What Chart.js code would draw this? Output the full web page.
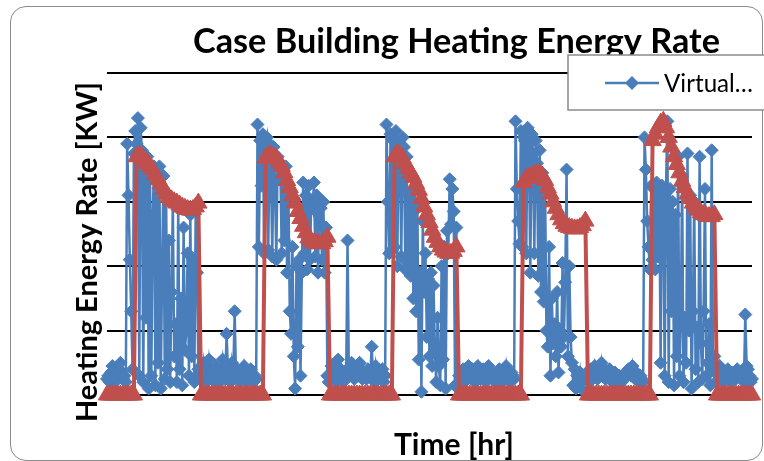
<!DOCTYPE html>
<html><head><meta charset="utf-8">
<script src="https://cdn.jsdelivr.net/npm/chart.js@4.4.1/dist/chart.umd.min.js"></script>
<style>
html,body{margin:0;padding:0;background:#fff;width:764px;height:461px;overflow:hidden}
#frame{position:absolute;left:10px;top:6px;width:753px;height:455px;border:1.5px solid #8a8a8a;border-radius:16px;box-sizing:border-box}
#wrap{position:absolute;left:0;top:0;width:764px;height:461px}
</style></head><body>
<div id="frame"></div>
<div id="wrap"><canvas id="c" width="764" height="461"></canvas></div>
<script>
// ---- texts ----
const chartTitle = 'Case Building Heating Energy Rate';
const xAxisTitle = 'Time [hr]';
const yAxisTitle = 'Heating Energy Rate [KW]';
const legendLabel = 'Virtual\u2026';

// ---- axis ----
const hourMin = 0, hourMax = 120;
const yMin = 0, yMax = 5, yStep = 1;
const blueStepHours = 0.25;
const redStepHours = 0.5;

// ---- blue series (Virtual...), one value every 15 min, per day ----
const blueDay1 = [0.25,0.3,0.2,0.35,0.45,0.3,0.2,0.35,0.3,0.4,0.5,0.35,0.25,0.3,0.2,
 3.9,3.1,2.1,1.3,0.4, 3.75,4.1,3.9,4.3,0.3, 4.15,3.8,0.2,3.6,1.2, 3.7,0.1,3.5,0.3,2.8, 3.55,0.15,3.3,0.5,3.55,
 0.1,1.9,3.4,0.25,3.1, 0.4,2.4,0.2,1.6,3.0, 0.6,1.1,0.2,2.9,0.4, 1.5,0.15,2.6,0.7,1.0, 2.2,0.3,2.8,0.6,2.1, 0.2,2.9,1.9,0.4,
 0.3,0.45,0.25,0.5,0.35, 0.2,0.3,0.55,0.4,0.25, 0.3,0.2,0.45,0.35,0.3, 0.2,0.4,0.55,0.3,0.25, 0.95,0.4,0.3,0.2,0.5, 0.35,1.3];
const blueDay2 = [0.3,0.4,0.25,0.2,0.35, 0.3,0.45,0.3,0.2,0.35, 0.25,0.4,0.3,0.2,0.3, 0.25,
 4.2,2.3,3.95,3.25,4.05, 2.2,3.9,4.0,2.25,3.9, 3.5,2.15,3.85,3.3,2.1, 3.7,3.4,3.6,2.2,3.3, 2.4,3.55,1.9,3.2,1.3,
 0.95,2.3,0.6,0.1,2.0, 0.75,2.1,0.3,1.9,3.3, 2.2,3.1,1.95,3.25,2.1, 3.0,2.9,3.3,2.15,3.1, 1.9,3.05,2.9,2.1,3.0, 1.9,2.6,0.3,
 0.2,0.3,0.45,0.3,0.25, 0.35,0.2,0.55,0.3,0.4, 0.25,0.2,0.3,0.35,2.4, 0.3,0.45,0.5,0.3,0.25, 0.4,0.35,0.3,0.5,0.4, 0.25,0.3];
const blueDay3 = [0.3,0.25,0.4,0.3,0.35, 0.75,0.3,0.2,0.45,0.3, 0.25,0.35,0.3,0.4,0.2, 0.3,
 4.2,3.0,2.2,4.05,2.25, 3.95,2.3,4.1,2.0,3.9, 3.8,2.15,4.0,3.85,1.95, 3.7,2.05,3.1,1.85,3.4, 1.5,3.2,1.3,2.9,0.55,
 1.9,0.05,2.7,1.6,2.2, 0.9,1.8,0.6,1.9,0.45, 1.7,0.7,0.2,1.2,0.45, 0.15,2.0,0.55,2.3,0.1, 2.55,2.2,3.35,2.65,3.2, 2.85,0.15,2.6,0.1,
 0.3,0.25,0.35,0.4,0.2, 0.3,0.35,0.45,0.3,0.25, 0.4,0.3,0.2,0.35,0.45, 0.3,0.25,0.3,0.4,0.35, 0.2,0.3,0.45,0.35,0.3, 0.25];
const blueDay4 = [0.3,0.2,0.35,0.25,0.4, 0.3,0.2,0.35,0.3,0.45, 0.25,0.3,0.2,0.35,0.3, 0.25,
 4.25,3.2,2.7,2.35,4.1, 2.3,4.0,3.95,2.2,4.15, 3.9,1.9,4.05,3.75,2.2, 3.95,3.6,1.85,3.8,1.6, 3.45,1.45,3.3,1.0,
 0.75,2.3,0.3,1.5,0.8, 1.1,0.6,1.6,0.35,1.0, 0.75,2.05,0.9,1.75,3.5, 0.6,2.0,0.9,0.5,0.15, 0.4,0.1,0.3,0.2,0.35, 0.1,0.25,
 0.3,0.25,0.35,0.3,0.2, 0.4,0.35,0.3,0.45,0.3, 0.25,0.4,0.35,0.5,0.3, 0.4,0.25,0.35,0.3,0.4, 0.3,0.2,0.3,0.35,0.25, 0.2,0.3,0.25,0.2];
const blueDay5 = [0.3,0.25,0.35,0.3,0.4, 0.35,0.3,0.45,0.3,0.25, 0.35,0.3,0.2,0.3,0.25, 0.2,
 4.0,3.5,2.7,2.3,1.95, 3.25,2.1,3.2,1.95,3.3, 2.15,3.2,0.5,3.25,3.1, 0.3,3.2,4.25,0.2,3.2, 1.3,3.0,0.15,2.8,0.6, 3.7,0.3,1.1,
 3.4,0.2,1.2,0.5,3.75, 1.0,3.1,0.1,1.3,3.0, 0.4,1.05,0.2,3.7,0.8, 0.25,1.3,3.2,0.3,0.5, 1.1,0.15,3.8,0.4,0.6, 0.2,
 0.35,0.3,0.45,0.3,0.25, 0.2,0.35,0.3,0.4,0.25, 0.3,0.2,0.35,0.3,0.25, 0.4,0.3,0.35,0.25,0.3, 0.2,1.25,0.45,0.4,0.3, 0.2];
const blueEnd = [0.25];

// ---- red series, one value every 30 min, per day ----
const redDay1 = [0,0,0,0,0,0,0,0,0,0,0,
 3.7,3.72,3.7,3.65,3.6,3.55,3.5,3.42,3.35,3.28,3.2,3.12,3.07,3.03,3.0,2.98,2.95,2.92,2.9,2.88,2.87,2.88,2.92,2.98,
 0,0,0,0,0,0,0,0,0,0,0,0,0];
const redDay2 = [0,0,0,0,0,0,0,0,0,0,0,
 3.68,3.72,3.72,3.7,3.67,3.62,3.55,3.45,3.33,3.22,3.1,2.98,2.85,2.74,2.62,2.52,2.44,2.39,2.36,2.35,2.35,2.35,2.38,2.45,
 0,0,0,0,0,0,0,0,0,0,0,0,0];
const redDay3 = [0,0,0,0,0,0,0,0,0,0,0,
 3.7,3.75,3.72,3.68,3.6,3.52,3.45,3.38,3.28,3.18,3.05,2.92,2.8,2.68,2.56,2.45,2.37,2.3,2.25,2.22,2.2,2.2,2.23,2.3,
 0,0,0,0,0,0,0,0,0,0,0,0,0];
const redDay4 = [0,0,0,0,0,0,0,0,0,0,0,
 3.3,3.36,3.38,3.4,3.42,3.44,3.44,3.4,3.33,3.22,3.12,3.0,2.9,2.8,2.72,2.66,2.62,2.6,2.59,2.58,2.58,2.6,2.63,2.7,
 0,0,0,0,0,0,0,0,0,0,0,0,0];
const redDay5 = [0,0,0,0,0,0,0,0,0,0,0,
 3.95,4.05,4.15,4.22,4.25,4.15,4.0,3.85,3.7,3.58,3.45,3.32,3.22,3.12,3.05,2.98,2.92,2.87,2.83,2.8,2.78,2.77,2.77,2.8,
 0,0,0,0,0,0,0,0,0,0,0,0,0];
const redEnd = [0];

const blueValues = [].concat(blueDay1, blueDay2, blueDay3, blueDay4, blueDay5, blueEnd);
const redValues = [].concat(redDay1, redDay2, redDay3, redDay4, redDay5, redEnd);

const BLUE = '#4A7EBB';
const RED = '#C0504D';

function fitFont(ctx, text, weight, family, targetWidth) {
  ctx.font = weight + ' 100px ' + family;
  const w = ctx.measureText(text).width;
  return weight + ' ' + (100 * targetWidth / w).toFixed(2) + 'px ' + family;
}

const decorPlugin = {
  id: 'decor',
  afterDraw(chart) {
    const ctx = chart.ctx;
    ctx.save();
    ctx.fillStyle = '#000';
    ctx.textBaseline = 'alphabetic';
    ctx.textAlign = 'left';
    // title
    ctx.font = fitFont(ctx, chartTitle, 'bold', 'Lato', 527);
    ctx.fillText(chartTitle, 193, 53);
    // x title
    ctx.font = fitFont(ctx, xAxisTitle, 'bold', 'Lato', 120);
    ctx.fillText(xAxisTitle, 394, 455);
    // y title
    ctx.save();
    ctx.translate(97, 422);
    ctx.rotate(-Math.PI / 2);
    ctx.font = fitFont(ctx, yAxisTitle, 'bold', 'Lato', 340);
    ctx.fillText(yAxisTitle, 0, 0);
    ctx.restore();
    // legend box
    ctx.fillStyle = '#fff';
    ctx.fillRect(568, 55, 200, 55);
    ctx.strokeStyle = '#8a8a8a';
    ctx.lineWidth = 1.5;
    ctx.strokeRect(568, 55, 200, 55);
    const ds = chart.data.datasets[0];
    ctx.strokeStyle = ds.borderColor;
    ctx.lineWidth = 2.5;
    ctx.beginPath(); ctx.moveTo(605, 83); ctx.lineTo(659, 83); ctx.stroke();
    ctx.fillStyle = ds.backgroundColor;
    ctx.beginPath();
    ctx.moveTo(632 - 7, 83); ctx.lineTo(632, 83 - 7); ctx.lineTo(632 + 7, 83); ctx.lineTo(632, 83 + 7);
    ctx.closePath(); ctx.fill();
    ctx.fillStyle = '#000';
    ctx.font = fitFont(ctx, legendLabel, 'normal', 'Lato', 89);
    ctx.fillText(legendLabel, 664, 92);
    ctx.restore();
  }
};

new Chart(document.getElementById('c'), {
  type: 'line',
  data: {
    datasets: [
      {
        label: legendLabel,
        data: blueValues.map((v, i) => ({ x: i * blueStepHours, y: v })),
        borderColor: BLUE, backgroundColor: BLUE,
        borderWidth: 2.5, pointStyle: 'rectRot', pointRadius: 6.5,
        pointBackgroundColor: BLUE, pointBorderColor: BLUE, pointBorderWidth: 1,
        tension: 0, clip: false, order: 2
      },
      {
        label: 'Actual',
        data: redValues.map((v, i) => ({ x: i * redStepHours, y: v })),
        borderColor: RED, backgroundColor: RED,
        borderWidth: 4, pointStyle: 'triangle', pointRadius: 10,
        pointBackgroundColor: RED, pointBorderColor: RED, pointBorderWidth: 1,
        tension: 0, clip: false, order: 1
      }
    ]
  },
  options: {
    responsive: false,
    animation: false,
    devicePixelRatio: 1,
    layout: { padding: { left: 107, right: 12, top: 73, bottom: 66 } },
    plugins: { legend: { display: false }, title: { display: false }, tooltip: { enabled: false } },
    scales: {
      x: { type: 'linear', min: hourMin, max: hourMax, display: false },
      y: {
        min: yMin, max: yMax,
        ticks: { display: false, stepSize: yStep },
        grid: { color: '#000', lineWidth: 2, drawTicks: false },
        border: { display: false }
      }
    }
  },
  plugins: [decorPlugin]
});
</script>
</body></html>
